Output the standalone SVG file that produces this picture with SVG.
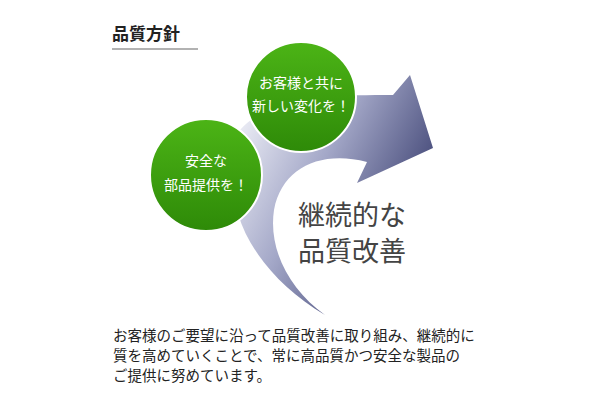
<svg xmlns="http://www.w3.org/2000/svg" width="600" height="400" viewBox="0 0 600 400">
<defs>
<style>
text{font-family:"Noto Sans CJK JP","Noto Sans",sans-serif}
.t{font-size:17px;font-weight:bold;fill:#222}
.c{font-size:14px;fill:#fff;text-anchor:middle}
.b{font-size:27px;fill:#444}
.p{font-size:14.5px;fill:#222}
.circ{fill:url(#gg);stroke:#fff;stroke-width:2}
</style>
<linearGradient id="ag" x1="0" y1="0.2" x2="1" y2="0.8">
<stop offset="0" stop-color="#f0f1f8"/><stop offset="0.4" stop-color="#a4a8c8"/><stop offset="1" stop-color="#20255a"/>
</linearGradient>
<linearGradient id="gg" x1="0" y1="0" x2="0" y2="1">
<stop offset="0" stop-color="#4cb416"/><stop offset="1" stop-color="#2e8a08"/>
</linearGradient>
</defs>
<g id="title"><text class="t" x="112" y="40">品質方針</text>
<line x1="112" y1="49" x2="198" y2="49" stroke="#999" stroke-width="1.5"/></g>
<g id="connectors">
<path d="M325,315 C250,270 215,200 240,130 C270,95 340,95 393,95 L410,75 L433,148 L357,183 L367,162 C320,150 282,168 274,210 C268,250 290,290 325,315 Z" fill="url(#ag)"/>
</g>
<g id="n1"><circle class="circ" cx="301" cy="97" r="55"/>
<text class="c" x="301" y="88">お客様と共に</text><text class="c" x="301" y="111">新しい変化を！</text></g>
<g id="n2"><circle class="circ" cx="206" cy="175" r="56"/>
<text class="c" x="206" y="166">安全な</text><text class="c" x="206" y="190">部品提供を！</text></g>
<g id="center"><text class="b" x="298" y="225">継続的な</text><text class="b" x="298" y="261">品質改善</text></g>
<g id="desc">
<text class="p" x="113" y="341">お客様のご要望に沿って品質改善に取り組み、継続的に</text>
<text class="p" x="113" y="361">質を高めていくことで、常に高品質かつ安全な製品の</text>
<text class="p" x="113" y="381">ご提供に努めています。</text>
</g>
</svg>
